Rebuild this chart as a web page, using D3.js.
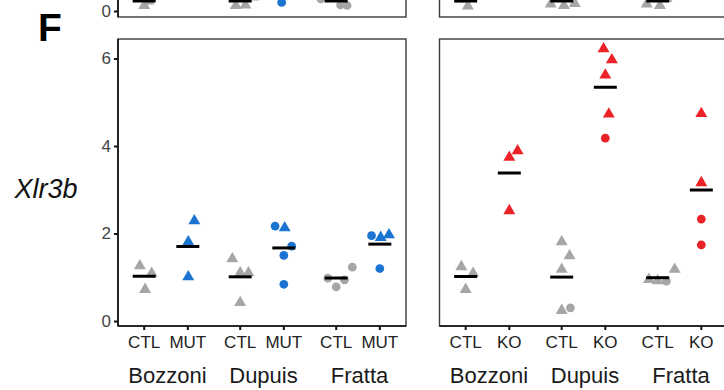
<!DOCTYPE html>
<html><head><meta charset="utf-8">
<script src="https://cdn.jsdelivr.net/npm/d3@7"></script>
<style>
html,body{margin:0;padding:0;background:#fff;}
svg{display:block;}
</style></head><body>
<svg id="chart" width="724" height="390"></svg>
<script>
const groups = ["Bozzoni", "Dupuis", "Fratta"];
const mutConds = ["CTL", "MUT"];
const koConds = ["CTL", "KO"];
const yTicks = [0, 2, 4, 6];
const upperTicks = [0];
const geneLabel = "Xlr3b";
const panelLetter = "F";

// Xlr3b relative expression, one row per sample: [group, condition, shape, value, jitter]
const xlr3bMut = [
  ["Bozzoni", "CTL", "tri", 1.26, -0.10], ["Bozzoni", "CTL", "tri", 1.09, 0.17], ["Bozzoni", "CTL", "tri", 0.72, 0.02],
  ["Bozzoni", "MUT", "tri", 2.29, 0.15], ["Bozzoni", "MUT", "tri", 1.81, 0.01], ["Bozzoni", "MUT", "tri", 1.01, 0.01],
  ["Dupuis", "CTL", "tri", 1.42, -0.18], ["Dupuis", "CTL", "tri", 1.10, 0.00], ["Dupuis", "CTL", "tri", 1.10, 0.19], ["Dupuis", "CTL", "tri", 0.42, 0.00],
  ["Dupuis", "MUT", "dot", 2.17, -0.20], ["Dupuis", "MUT", "tri", 2.13, 0.02], ["Dupuis", "MUT", "dot", 1.71, 0.18], ["Dupuis", "MUT", "dot", 1.50, 0.00], ["Dupuis", "MUT", "dot", 0.84, 0.00],
  ["Fratta", "CTL", "dot", 0.98, -0.19], ["Fratta", "CTL", "dot", 0.78, 0.00], ["Fratta", "CTL", "dot", 0.94, 0.19], ["Fratta", "CTL", "dot", 1.23, 0.37],
  ["Fratta", "MUT", "dot", 1.95, -0.19], ["Fratta", "MUT", "tri", 1.91, 0.02], ["Fratta", "MUT", "tri", 1.97, 0.21], ["Fratta", "MUT", "dot", 1.20, 0.00]
];
const xlr3bKo = [
  ["Bozzoni", "CTL", "tri", 1.24, -0.10], ["Bozzoni", "CTL", "tri", 1.09, 0.17], ["Bozzoni", "CTL", "tri", 0.72, 0.00],
  ["Bozzoni", "KO", "tri", 3.89, 0.19], ["Bozzoni", "KO", "tri", 3.74, 0.00], ["Bozzoni", "KO", "tri", 2.52, 0.00],
  ["Dupuis", "CTL", "tri", 1.81, 0.00], ["Dupuis", "CTL", "tri", 1.49, 0.18], ["Dupuis", "CTL", "tri", 1.18, 0.00], ["Dupuis", "CTL", "tri", 0.24, 0.00], ["Dupuis", "CTL", "dot", 0.30, 0.20],
  ["Dupuis", "KO", "tri", 6.22, -0.04], ["Dupuis", "KO", "tri", 5.97, 0.15], ["Dupuis", "KO", "tri", 5.62, 0.00], ["Dupuis", "KO", "tri", 4.73, 0.08], ["Dupuis", "KO", "dot", 4.18, 0.00],
  ["Fratta", "CTL", "tri", 0.95, -0.20], ["Fratta", "CTL", "tri", 0.92, 0.00], ["Fratta", "CTL", "dot", 0.91, 0.20], ["Fratta", "CTL", "tri", 1.18, 0.39],
  ["Fratta", "KO", "tri", 4.74, 0.00], ["Fratta", "KO", "tri", 3.16, 0.00], ["Fratta", "KO", "dot", 2.33, 0.00], ["Fratta", "KO", "dot", 1.74, 0.00]
];

// Row above: only the lowest samples fall inside the frame
const upperMut = [
  ["Bozzoni", "CTL", "tri", 1.45, -0.05], ["Bozzoni", "CTL", "tri", 0.55, 0.00], ["Bozzoni", "CTL", "tri", 1.00, 0.10],
  ["Dupuis", "CTL", "tri", 0.55, -0.10], ["Dupuis", "CTL", "tri", 0.60, 0.12], ["Dupuis", "CTL", "tri", 1.40, 0.30], ["Dupuis", "CTL", "tri", 1.45, -0.20],
  ["Dupuis", "MUT", "dot", 0.85, -0.05],
  ["Fratta", "CTL", "dot", 0.60, 0.10], ["Fratta", "CTL", "dot", 0.55, 0.25], ["Fratta", "CTL", "dot", 1.20, -0.35], ["Fratta", "CTL", "dot", 1.65, 0.05]
];
const upperKo = [
  ["Bozzoni", "CTL", "tri", 0.50, 0.05], ["Bozzoni", "CTL", "tri", 1.20, -0.10], ["Bozzoni", "CTL", "tri", 1.30, 0.10],
  ["Dupuis", "CTL", "tri", 0.55, 0.05], ["Dupuis", "CTL", "tri", 0.70, -0.25], ["Dupuis", "CTL", "tri", 0.75, 0.30], ["Dupuis", "CTL", "tri", 1.50, 0.00], ["Dupuis", "CTL", "tri", 1.50, 0.10],
  ["Fratta", "CTL", "tri", 0.55, 0.05], ["Fratta", "CTL", "tri", 0.70, -0.25], ["Fratta", "CTL", "tri", 1.25, 0.20], ["Fratta", "CTL", "tri", 1.50, 0.00]
];

const colours = { CTL: "#a6a6a6", MUT: "#1b74d1", KO: "#ec2229" };
const narrow = "'Liberation Sans Narrow', 'Arial Narrow', 'Liberation Sans', Arial, sans-serif";
const regular = "'Liberation Sans', Arial, Helvetica, sans-serif";

const svg = d3.select("#chart");
const panelW = 288;

function drawPanel(opts) {
  const { x0, top, bottom, yDomain, rows, conds, yAxis, xAxis, meanConds } = opts;
  const g = svg.append("g");
  const clipId = "clip" + Math.round(x0) + "_" + Math.round(bottom);
  svg.append("clipPath").attr("id", clipId)
    .append("rect").attr("x", x0).attr("y", top).attr("width", panelW).attr("height", bottom - top);

  const y = d3.scaleLinear().domain(yDomain).range([bottom, top]);
  const xg = d3.scaleBand().domain(groups).range([x0, x0 + panelW]).padding(0);
  const xi = d3.scalePoint().domain(conds).range([0, xg.bandwidth()]).padding(0.6);
  const step = xi.step();
  const xPos = (grp, c, j) => xg(grp) + xi(c) + (j || 0) * step;

  // frame
  g.append("rect").attr("x", x0).attr("y", top).attr("width", panelW).attr("height", bottom - top)
    .attr("fill", "none").attr("stroke", "#3a3a3a").attr("stroke-width", 1.4);

  const marks = g.append("g").attr("clip-path", `url(#${clipId})`);
  const tri = d3.symbol().type(d3.symbolTriangle).size(62);
  const dot = d3.symbol().type(d3.symbolCircle).size(60);
  marks.selectAll("path.pt").data(rows).join("path")
    .attr("class", "pt")
    .attr("d", d => d[2] === "tri" ? tri() : dot())
    .attr("transform", d => `translate(${xPos(d[0], d[1], d[4])},${y(d[3])})`)
    .attr("fill", d => colours[d[1]]);

  // group means
  const means = d3.flatRollup(rows.filter(d => meanConds.includes(d[1])), v => d3.mean(v, d => d[3]), d => d[0], d => d[1]);
  marks.selectAll("line.mean").data(means).join("line")
    .attr("class", "mean")
    .attr("x1", d => xPos(d[0], d[1]) - 11.5).attr("x2", d => xPos(d[0], d[1]) + 11.5)
    .attr("y1", d => y(d[2])).attr("y2", d => y(d[2]))
    .attr("stroke", "#000").attr("stroke-width", 3);

  if (yAxis) {
    const ay = g.append("g").attr("transform", `translate(${x0},0)`)
      .call(d3.axisLeft(y).tickValues(yAxis).tickSize(4).tickPadding(3).tickFormat(d3.format("d")));
    ay.select(".domain").attr("stroke", "#111").attr("stroke-width", 1.6).attr("d", `M0,${top}V${bottom}`);
    ay.selectAll(".tick line").attr("stroke", "#111").attr("stroke-width", 2);
    ay.selectAll(".tick text").attr("fill", "#444").style("font-family", narrow).style("font-size", "17px");
  }
  if (xAxis) {
    const ticks = [];
    groups.forEach(grp => conds.forEach(c => ticks.push([grp, c])));
    const ax = g.append("g");
    ax.append("line").attr("x1", x0).attr("x2", x0 + panelW).attr("y1", bottom).attr("y2", bottom)
      .attr("stroke", "#111").attr("stroke-width", 1.6);
    ax.selectAll("line.tk").data(ticks).join("line").attr("class", "tk")
      .attr("x1", d => xPos(d[0], d[1])).attr("x2", d => xPos(d[0], d[1]))
      .attr("y1", bottom).attr("y2", bottom + 4)
      .attr("stroke", "#111").attr("stroke-width", 2);
    ax.selectAll("text.tl").data(ticks).join("text").attr("class", "tl")
      .attr("x", d => xPos(d[0], d[1])).attr("y", bottom + 22)
      .attr("text-anchor", "middle").attr("fill", "#222")
      .style("font-family", narrow).style("font-size", "17px")
      .text(d => d[1]);
    ax.selectAll("text.gl").data(groups).join("text").attr("class", "gl")
      .attr("x", d => xg(d) + xg.bandwidth() / 2 + 1.5).attr("y", bottom + 57)
      .attr("text-anchor", "middle").attr("fill", "#1a1a1a")
      .style("font-family", regular).style("font-size", "22px")
      .text(d => d);
  }
}

// upper row (cut by the top edge)
drawPanel({ x0: 118, top: -270, bottom: 17, yDomain: [-0.6, 28.1], rows: upperMut, conds: mutConds,
  yAxis: upperTicks, xAxis: false, meanConds: ["CTL"] });
drawPanel({ x0: 439.5, top: -270, bottom: 17, yDomain: [-0.6, 28.1], rows: upperKo, conds: koConds,
  yAxis: null, xAxis: false, meanConds: ["CTL"] });

// Xlr3b row
const yDom = [-0.114, 6.446];
drawPanel({ x0: 118, top: 39, bottom: 326, yDomain: yDom, rows: xlr3bMut, conds: mutConds,
  yAxis: yTicks, xAxis: true, meanConds: mutConds });
drawPanel({ x0: 439.5, top: 39, bottom: 326, yDomain: yDom, rows: xlr3bKo, conds: koConds,
  yAxis: null, xAxis: true, meanConds: koConds });

svg.append("text").attr("x", 46).attr("y", 198).attr("text-anchor", "middle")
  .style("font-family", regular).style("font-style", "italic").style("font-size", "27px")
  .attr("fill", "#111").text(geneLabel);

svg.append("text").attr("x", 50).attr("y", 41).attr("text-anchor", "middle")
  .style("font-family", regular).style("font-weight", "bold").style("font-size", "39px")
  .attr("fill", "#000").text(panelLetter);
</script>
</body></html>
